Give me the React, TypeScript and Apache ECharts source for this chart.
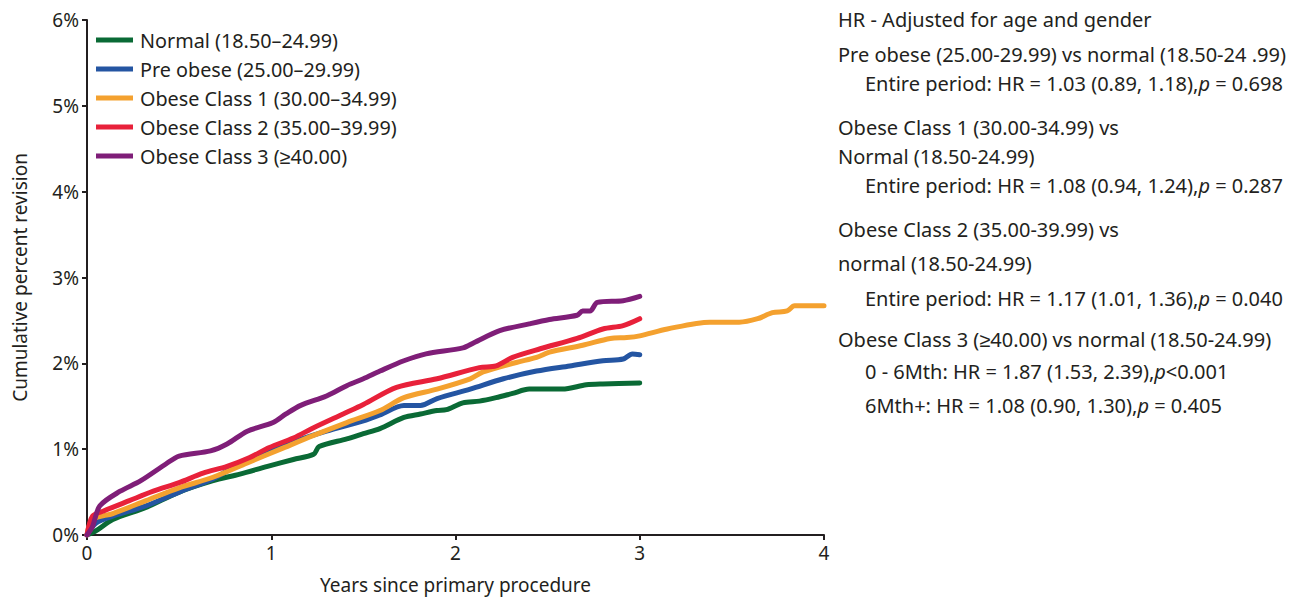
import React, { useEffect, useRef } from "react";
import * as echarts from "echarts";

// Cumulative percent revision by BMI class: [years since primary, cumulative %]
const normal: [number, number][] = [
  [0, 0], [0.05, 0.05], [0.14, 0.18], [0.32, 0.32], [0.5, 0.5], [0.68, 0.63], [0.83, 0.71],
  [0.98, 0.8], [1.12, 0.88], [1.23, 0.94], [1.26, 1.03], [1.41, 1.12], [1.5, 1.18],
  [1.59, 1.24], [1.72, 1.37], [1.81, 1.41], [1.9, 1.45], [1.95, 1.46], [2.04, 1.54],
  [2.13, 1.56], [2.22, 1.6], [2.31, 1.65], [2.4, 1.7], [2.58, 1.7], [2.71, 1.75],
  [2.8, 1.76], [3.0, 1.77],
];
const preObese: [number, number][] = [
  [0, 0], [0.05, 0.14], [0.14, 0.22], [0.32, 0.34], [0.5, 0.5], [0.68, 0.65], [0.79, 0.78],
  [0.96, 0.94], [1.14, 1.1], [1.3, 1.21], [1.5, 1.33], [1.59, 1.4], [1.72, 1.51],
  [1.81, 1.51], [1.9, 1.59], [2.08, 1.7], [2.26, 1.82], [2.44, 1.91], [2.62, 1.97],
  [2.8, 2.03], [2.91, 2.05], [2.96, 2.11], [3.0, 2.1],
];
const obese1: [number, number][] = [
  [0, 0], [0.03, 0.18], [0.14, 0.25], [0.32, 0.4], [0.5, 0.55], [0.68, 0.67], [0.87, 0.84],
  [1.05, 1.0], [1.23, 1.16], [1.41, 1.31], [1.59, 1.45], [1.72, 1.6], [1.9, 1.7],
  [2.08, 1.82], [2.15, 1.9], [2.33, 2.01], [2.44, 2.07], [2.51, 2.13], [2.69, 2.21],
  [2.84, 2.29], [2.93, 2.3], [3.0, 2.32], [3.15, 2.4], [3.38, 2.48], [3.54, 2.48],
  [3.64, 2.52], [3.72, 2.59], [3.8, 2.61], [3.84, 2.67], [4.0, 2.67],
];
const obese2: [number, number][] = [
  [0, 0], [0.03, 0.22], [0.09, 0.28], [0.23, 0.4], [0.36, 0.51], [0.5, 0.61], [0.63, 0.72],
  [0.76, 0.8], [0.88, 0.9], [0.99, 1.02], [1.12, 1.13], [1.23, 1.25], [1.39, 1.41],
  [1.5, 1.52], [1.68, 1.72], [1.9, 1.82], [2.13, 1.95], [2.22, 1.97], [2.31, 2.07],
  [2.46, 2.17], [2.66, 2.29], [2.8, 2.4], [2.91, 2.44], [3.0, 2.52],
];
const obese3: [number, number][] = [
  [0, 0], [0.03, 0.1], [0.07, 0.34], [0.18, 0.51], [0.29, 0.63], [0.43, 0.83], [0.5, 0.92],
  [0.67, 0.98], [0.76, 1.06], [0.87, 1.21], [1.01, 1.31], [1.08, 1.41], [1.16, 1.51],
  [1.3, 1.62], [1.41, 1.74], [1.5, 1.82], [1.59, 1.91], [1.72, 2.03], [1.84, 2.11],
  [2.04, 2.18], [2.1, 2.24], [2.24, 2.38], [2.4, 2.46], [2.51, 2.51], [2.66, 2.56],
  [2.69, 2.61], [2.73, 2.61], [2.77, 2.71], [2.91, 2.73], [3.0, 2.78],
];

const seriesNames = [
  "Normal (18.50\u201324.99)",
  "Pre obese (25.00\u201329.99)",
  "Obese Class 1 (30.00\u201334.99)",
  "Obese Class 2 (35.00\u201339.99)",
  "Obese Class 3 (\u226540.00)",
];
const seriesData = [normal, preObese, obese1, obese2, obese3];
const seriesColors = ["#0a6a35", "#2455a2", "#f4a12f", "#e8213a", "#7f1e78"];

const xTicks = [0, 1, 2, 3, 4];
const yTicks = [0, 1, 2, 3, 4, 5, 6];

// Hazard-ratio notes: [text segments, indented]
const notes: { parts: string[]; indent: boolean; y: number }[] = [
  { parts: ["HR - Adjusted for age and gender"], indent: false, y: 20 },
  { parts: ["Pre obese (25.00-29.99) vs normal (18.50-24 .99)"], indent: false, y: 55 },
  { parts: ["Entire period: HR = 1.03 (0.89, 1.18),", "p", " = 0.698"], indent: true, y: 84 },
  { parts: ["Obese Class 1 (30.00-34.99) vs"], indent: false, y: 128 },
  { parts: ["Normal (18.50-24.99)"], indent: false, y: 157 },
  { parts: ["Entire period: HR = 1.08 (0.94, 1.24),", "p", " = 0.287"], indent: true, y: 186 },
  { parts: ["Obese Class 2 (35.00-39.99) vs"], indent: false, y: 230 },
  { parts: ["normal (18.50-24.99)"], indent: false, y: 264 },
  { parts: ["Entire period: HR = 1.17 (1.01, 1.36),", "p", " = 0.040"], indent: true, y: 299 },
  { parts: ["Obese Class 3 (\u226540.00) vs normal (18.50-24.99)"], indent: false, y: 340 },
  { parts: ["0 - 6Mth: HR = 1.87 (1.53, 2.39),", "p", "<0.001"], indent: true, y: 372 },
  { parts: ["6Mth+: HR = 1.08 (0.90, 1.30),", "p", " = 0.405"], indent: true, y: 406 },
];

const FONT = "'Noto Sans', sans-serif";
const INK = "#231f20";
const NOTE_SIZE = 20;

export default function App() {
  const ref = useRef<HTMLDivElement>(null);

  useEffect(() => {
    if (!ref.current) return;
    const chart = echarts.init(ref.current, undefined, { renderer: "svg" });

    const graphics = notes.map((n) => {
      const text =
        n.parts.length === 1
          ? n.parts[0]
          : `${n.parts[0]}{i|${n.parts[1]}}${n.parts[2]}`;
      return {
        type: "text",
        left: n.indent ? 865 : 838,
        top: n.y - 11,
        style: {
          text,
          fill: INK,
          font: `${NOTE_SIZE}px ${FONT}`,
          rich: {
            i: { fontStyle: "italic", fontSize: NOTE_SIZE, fontFamily: FONT, fill: INK },
          },
        },
      };
    });

    chart.setOption({
      animation: false,
      backgroundColor: "#ffffff",
      textStyle: { fontFamily: FONT },
      grid: { left: 87, right: 471, top: 20, bottom: 57, containLabel: false },
      legend: {
        orient: "vertical",
        left: 96,
        top: 30,
        padding: 0,
        icon: "rect",
        itemWidth: 37,
        itemHeight: 5,
        itemGap: 9,
        textStyle: { fontSize: 19.8, color: INK, fontFamily: FONT, padding: [0, 0, 0, 2] },
        data: seriesNames,
      },
      xAxis: {
        type: "value",
        min: xTicks[0],
        max: xTicks[xTicks.length - 1],
        interval: 1,
        name: "Years since primary procedure",
        nameLocation: "middle",
        nameGap: 40,
        nameTextStyle: { fontSize: 19, color: INK },
        axisLine: { lineStyle: { color: INK, width: 2 } },
        axisTick: { show: true, length: 5, lineStyle: { color: INK, width: 2 } },
        axisLabel: { fontSize: 19, color: INK, margin: 8 },
        splitLine: { show: false },
      },
      yAxis: {
        type: "value",
        min: yTicks[0],
        max: yTicks[yTicks.length - 1],
        interval: 1,
        name: "Cumulative percent revision",
        nameLocation: "middle",
        nameGap: 58,
        nameTextStyle: { fontSize: 19, color: INK },
        axisLine: { show: true, lineStyle: { color: INK, width: 2 } },
        axisTick: { show: true, length: 5, lineStyle: { color: INK, width: 2 } },
        axisLabel: { fontSize: 19, color: INK, margin: 8, formatter: "{value}%" },
        splitLine: { show: false },
      },
      series: seriesData.map((d, i) => ({
        name: seriesNames[i],
        type: "line",
        data: d,
        showSymbol: false,
        symbol: "none",
        smooth: 0.3,
        color: seriesColors[i],
        lineStyle: { width: 5, color: seriesColors[i], cap: "round", join: "round" },
      })),
      graphic: graphics,
    });

    return () => chart.dispose();
  }, []);

  return (
    <div
      ref={ref}
      style={{ position: "absolute", left: 0, top: 0, width: 1295, height: 599 }}
    />
  );
}
